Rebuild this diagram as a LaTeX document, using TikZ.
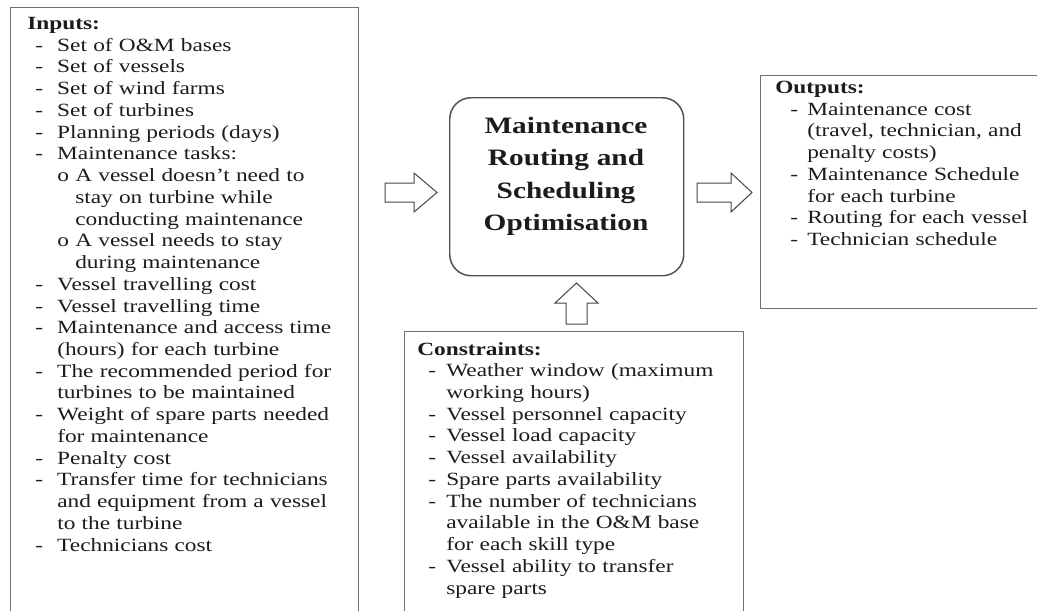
\documentclass[tikz,border=0pt]{standalone}
\usepackage{fontspec}
\setmainfont{Liberation Serif}[FakeStretch=1.25]
\definecolor{txt}{RGB}{28,28,28}
\definecolor{boxc}{RGB}{112,112,112}
\definecolor{corec}{RGB}{80,80,80}
\definecolor{arrc}{RGB}{70,70,70}
\newlength\dashoff
\newlength\textoff
\newlength\subtextoff
\newcommand\itm[1]{\par\hangindent=\textoff\hangafter=1\noindent\makebox[\textoff][l]{\hspace{\dashoff}-}#1}
\newcommand\sitm[1]{\par\hangindent=\subtextoff\hangafter=1\noindent\makebox[\subtextoff][l]{\hspace{\textoff}o}#1}
\newcommand\nl{\hfil\break}
\tikzset{
  boxnode/.style={draw=boxc, line width=1.1pt, rectangle, anchor=north west, inner sep=0pt},
  corenode/.style={draw=corec, line width=1.1pt, rectangle, rounded corners=16pt, anchor=north west, inner sep=0pt},
  listtext/.style={anchor=base west, inner sep=0pt, align=left, text width=320pt, text=txt,
    font=\fontsize{14pt}{16.3pt}\selectfont},
  titletext/.style={anchor=base, inner sep=0pt, align=center, text width=220pt, text=txt,
    font=\fontsize{17.6pt}{24.3pt}\selectfont\bfseries},
  blockarrow/.style={draw=arrc, line width=0.75pt, fill=white, line join=miter}
}
\begin{document}
\begin{tikzpicture}[x=0.75pt,y=-0.75pt]
\useasboundingbox (0,0) rectangle (1037,610);
\clip (0,0) rectangle (1037,610);
\fill[white] (0,0) rectangle (1037,610);

% boxes
\node[boxnode, minimum width=261pt, minimum height=470pt] (inputs) at (10,7) {};
\node[corenode, minimum width=175.5pt, minimum height=133.5pt] (core) at (449,97) {};
\node[boxnode, minimum width=225pt, minimum height=174.75pt] (outputs) at (760,75) {};
\node[boxnode, minimum width=254.25pt, minimum height=230pt] (constraints) at (404,331) {};

% texts
\node[listtext] (intext) at (27,29.5) {\setlength\parskip{0pt}\setlength\lineskiplimit{-20pt}%
\setlength\dashoff{6pt}\setlength\textoff{22.5pt}\setlength\subtextoff{36pt}%
\noindent\textbf{Inputs:}
\itm{Set of O\&M bases}
\itm{Set of vessels}
\itm{Set of wind farms}
\itm{Set of turbines}
\itm{Planning periods (days)}
\itm{Maintenance tasks:}
\sitm{A vessel doesn’t need to\nl stay on turbine while\nl conducting maintenance}
\sitm{A vessel needs to stay\nl during maintenance}
\itm{Vessel travelling cost}
\itm{Vessel travelling time}
\itm{Maintenance and access time\nl (hours) for each turbine}
\itm{The recommended period for\nl turbines to be maintained}
\itm{Weight of spare parts needed\nl for maintenance}
\itm{Penalty cost}
\itm{Transfer time for technicians\nl and equipment from a vessel\nl to the turbine}
\itm{Technicians cost}\par};

\node[titletext] (title) at (566,133.5) {Maintenance\\Routing and\\Scheduling\\Optimisation};

\node[listtext] (outtext) at (775,93.5) {\setlength\parskip{0pt}\setlength\lineskiplimit{-20pt}%
\setlength\dashoff{11.25pt}\setlength\textoff{24pt}%
\noindent\textbf{Outputs:}
\itm{Maintenance cost\nl (travel, technician, and\nl penalty costs)}
\itm{Maintenance Schedule\nl for each turbine}
\itm{Routing for each vessel}
\itm{Technician schedule}\par};

\node[listtext] (context) at (417,355) {\setlength\parskip{0pt}\setlength\lineskiplimit{-20pt}%
\setlength\dashoff{8.25pt}\setlength\textoff{21.75pt}%
\noindent\textbf{Constraints:}
\itm{Weather window (maximum\nl working hours)}
\itm{Vessel personnel capacity}
\itm{Vessel load capacity}
\itm{Vessel availability}
\itm{Spare parts availability}
\itm{The number of technicians\nl available in the O\&M base\nl for each skill type}
\itm{Vessel ability to transfer\nl spare parts}\par};

% block arrows
\draw[blockarrow] (385,183) -- (414,183) -- (414,173) -- (437,192.5) -- (414,212) -- (414,202) -- (385,202) -- cycle;
\draw[blockarrow] (697,183) -- (731,183) -- (731,173) -- (752,192.5) -- (731,212) -- (731,202) -- (697,202) -- cycle;
\draw[blockarrow] (566,324) -- (566,303) -- (555,303) -- (576.5,283) -- (598,303) -- (587,303) -- (587,324) -- cycle;
\end{tikzpicture}
\end{document}
